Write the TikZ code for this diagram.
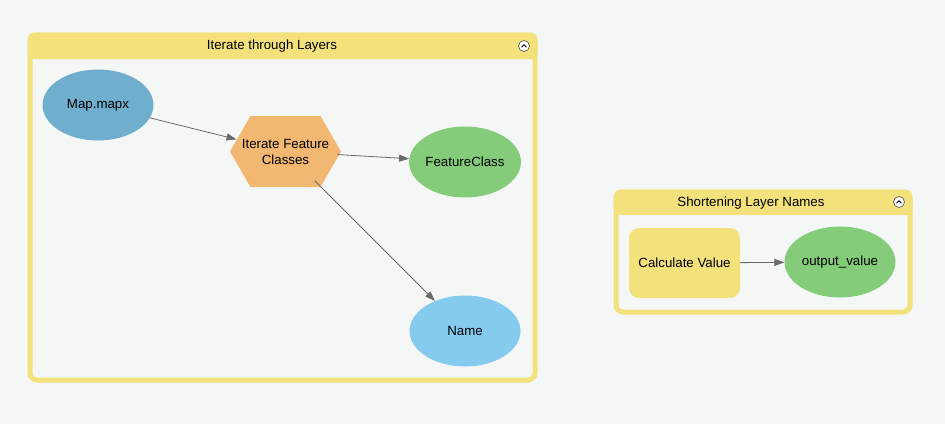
\documentclass[tikz,border=0pt]{standalone}
\usepackage{fontspec}
\setmainfont{Liberation Sans}
\usetikzlibrary{shapes.geometric,arrows.meta}
\definecolor{bgc}{HTML}{F5F7F7}
\definecolor{ylw}{HTML}{F3E17C}
\definecolor{blu}{HTML}{6FAFCD}
\definecolor{lblu}{HTML}{84CBEE}
\definecolor{grn}{HTML}{84CC7A}
\definecolor{orng}{HTML}{F2B872}
\definecolor{lnc}{HTML}{6A6A6A}
\tikzset{
  x=1pt,y=-1pt,
  every node/.style={font=\fontsize{13.3}{14}\selectfont, text=black},
  grp/.style={draw=ylw, line width=5pt, rounded corners=7pt},
  ell/.style={ellipse, minimum width=111pt, minimum height=71pt, inner sep=0pt},
  conn/.style={draw=lnc, line width=0.8pt, -{Triangle[length=10pt,width=7pt]}},
  icon/.style={circle, draw=black!70, fill=white, minimum size=11pt, inner sep=0pt, line width=0.6pt}
}
\begin{document}
\begin{tikzpicture}
\fill[bgc] (0,0) rectangle (945,424);
\useasboundingbox (0,0) rectangle (945,424);
% group 1
\fill[ylw, rounded corners=7pt] (27.5,32.5) rectangle (537.5,59);
\draw[grp] (30,35) rectangle (535,380);
\fill[ylw] (32.5,45) rectangle (532.5,59);
\node (t1) at (272,46) {Iterate through Layers};
\node[icon] (i1) at (524,46) {};
\draw[black, line width=0.9pt] ([shift={(-2.5,1.2)}]i1.center) -- ([shift={(0,-1.3)}]i1.center) -- ([shift={(2.5,1.2)}]i1.center);
% group 2
\fill[ylw, rounded corners=7pt] (613.5,189.5) rectangle (912.5,215);
\draw[grp] (616,192) rectangle (910,312);
\fill[ylw] (618.5,200) rectangle (907.5,215);
\node (t2) at (751,203) {Shortening Layer Names};
\node[icon] (i2) at (899,202) {};
\draw[black, line width=0.9pt] ([shift={(-2.5,1.2)}]i2.center) -- ([shift={(0,-1.3)}]i2.center) -- ([shift={(2.5,1.2)}]i2.center);
% nodes
\node[ell, fill=blu] (map) at (98,105) {Map.mapx};
\fill[orng] (230,151.5) -- (250.5,116) -- (320.5,116) -- (341,151.5) -- (320.5,187) -- (250.5,187) -- cycle;
\node[ellipse, minimum width=104pt, minimum height=70pt, inner sep=0pt,
  label={[align=center, font=\fontsize{13.3}{16}\selectfont]center:Iterate Feature\\Classes}] (hex) at (285.5,151.5) {};
\node[ell, fill=grn] (fc) at (465,162) {FeatureClass};
\node[ell, fill=lblu] (name) at (465,331) {Name};
\node[fill=ylw, rounded corners=10pt, minimum width=111pt, minimum height=70pt, inner sep=0pt] (calc) at (684.5,263) {Calculate Value};
\node[ell, fill=grn] (out) at (840,262) {output\_value};
% connectors
\draw[conn] (map) -- (hex);
\draw[conn] (hex) -- (fc);
\draw[conn] (hex) -- (name);
\draw[conn] (calc) -- (out);
\end{tikzpicture}
\end{document}
